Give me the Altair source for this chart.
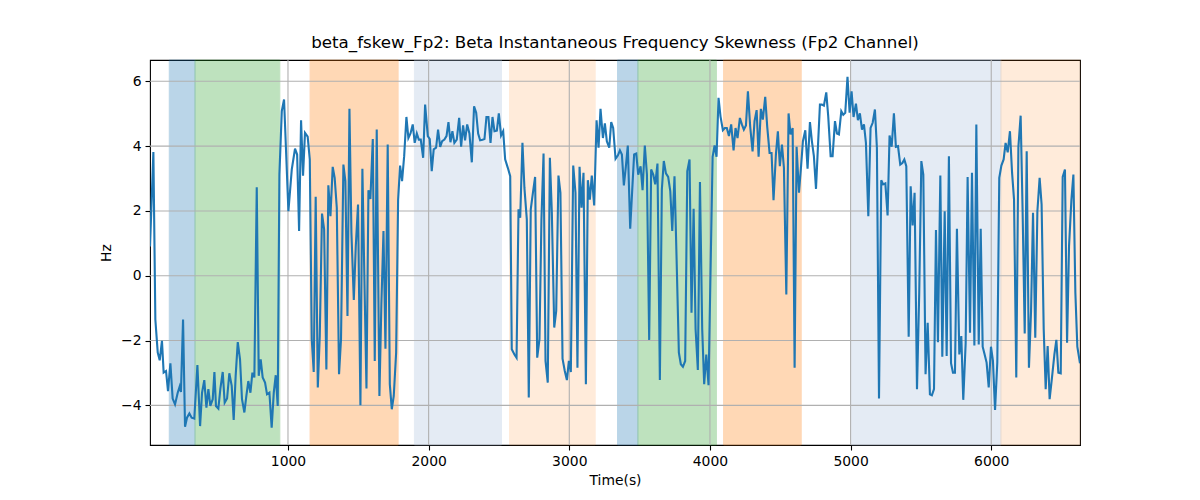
import altair as alt
import pandas as pd

# beta instantaneous frequency skewness, Fp2 channel
time_s = [
    19, 43, 57, 74, 88, 104, 116, 133, 147, 164, 180, 197, 216, 230, 239, 254, 268, 282, 299, 315,
    334, 356, 375, 389, 405, 420, 434, 448, 465, 477, 488, 505, 519, 536, 550, 567, 583, 600, 614, 628,
    643, 659, 673, 690, 704, 718, 733, 747, 761, 778, 792, 806, 820, 837, 851, 868, 884, 899, 913, 927,
    939, 956, 972,
    1003, 1027, 1050, 1065, 1079, 1093, 1107, 1121, 1140, 1155, 1169, 1183, 1197, 1212, 1226, 1242, 1257, 1273,
    1287, 1302, 1318, 1332, 1347, 1363, 1377, 1394, 1408, 1423, 1437, 1451, 1468, 1482, 1498, 1515, 1529, 1543,
    1558, 1572, 1586, 1603, 1617, 1631, 1650, 1664, 1679, 1693, 1709, 1724, 1738, 1752, 1769, 1783, 1797, 1811,
    1826, 1842, 1856, 1871, 1887, 1901, 1916, 1930, 1944, 1961, 1975,
    1994, 2008, 2022, 2036, 2053, 2067, 2082, 2096, 2112, 2127, 2141, 2155, 2169, 2183, 2200, 2217, 2231, 2245,
    2259, 2274, 2290, 2307, 2323, 2338, 2352, 2366, 2383, 2397, 2411, 2425, 2440, 2454, 2468, 2485, 2499, 2515,
    2530, 2544, 2563, 2580, 2591, 2610, 2625, 2639, 2651, 2667, 2681, 2698, 2712, 2726, 2743, 2757, 2772, 2788,
    2802, 2817, 2831, 2847, 2862, 2876, 2893, 2907, 2923, 2937, 2952, 2968, 2983, 2997,
    3011, 3028, 3044, 3058, 3073, 3087, 3101, 3118, 3132, 3146, 3160, 3177, 3194, 3208, 3222, 3239, 3253, 3267,
    3284, 3298, 3312, 3329, 3345, 3360, 3374, 3388, 3402, 3416, 3433, 3447, 3461, 3476, 3490, 3507, 3521, 3537,
    3552, 3568, 3582, 3597, 3611, 3627, 3644, 3658, 3672, 3687, 3703, 3718, 3732, 3748, 3763, 3779, 3793, 3808,
    3824, 3839, 3855, 3869, 3884, 3898, 3914, 3929, 3945, 3959, 3974, 3990,
    4004, 4019, 4033, 4047, 4061, 4075, 4092, 4106, 4120, 4135, 4151, 4168, 4182, 4196, 4213, 4227, 4241, 4256,
    4270, 4286, 4303, 4317, 4332, 4346, 4362, 4376, 4393, 4407, 4424, 4438, 4452, 4469, 4483, 4497, 4512, 4526,
    4543, 4559, 4573, 4588, 4602, 4616, 4633, 4647, 4661, 4678, 4694, 4711, 4725, 4739, 4754, 4768, 4782, 4796,
    4810, 4827, 4841, 4858, 4872, 4889, 4903, 4917, 4934, 4948, 4962, 4978, 4993,
    5007, 5021, 5038, 5052, 5066, 5081, 5095, 5109, 5126, 5142, 5157, 5173, 5187, 5202, 5218, 5232, 5247, 5263,
    5277, 5292, 5308, 5322, 5337, 5353, 5368, 5382, 5396, 5413, 5427, 5441, 5455, 5472, 5488, 5503, 5517, 5533,
    5548, 5564, 5578, 5593, 5607, 5621, 5638, 5652, 5669, 5683, 5699, 5714, 5728, 5742, 5756, 5773, 5787, 5801,
    5818, 5832, 5849, 5863, 5880, 5894, 5911, 5925, 5939, 5953, 5967, 5982,
    5998, 6012, 6027, 6043, 6057, 6072, 6088, 6102, 6117, 6133, 6148, 6162, 6178, 6193, 6209, 6223, 6238, 6252,
    6268, 6283, 6297, 6313, 6328, 6344, 6358, 6373, 6387, 6401, 6415, 6432, 6449, 6463, 6477, 6494, 6508, 6524,
    6539, 6553, 6570, 6584, 6598, 6612, 6631,
]
skew_hz = [
    0.9, 3.82, -1.35, -2.37, -2.61, -2.01, -2.99, -2.94, -3.56, -2.70, -3.79, -3.97, -3.61, -3.42, -3.59, -1.35, -4.66, -4.38, -4.25, -4.38,
    -4.41, -2.76, -4.64, -3.61, -3.22, -4.07, -3.50, -4.02, -3.81, -2.97, -4.02, -4.10, -3.50, -2.97, -3.92, -3.79, -3.01, -3.40, -4.45, -3.09,
    -2.05, -2.58, -3.81, -4.22, -3.71, -3.25, -3.61, -2.99, -3.14, 2.73, -3.09, -2.58, -3.14, -3.30, -3.66, -3.61, -4.69, -3.61, -3.07, -4.02,
    3.12, 5.08, 5.44,
    1.99, 3.28, 3.92, 3.74, 1.38, 4.80, 3.09, 4.41, 4.29, 3.59, -1.96, -2.97, 2.44, -3.45, -1.86, 1.92, 1.43, -2.89,
    2.79, 1.84, 3.36, 3.02, 2.10, -3.04, -1.96, 3.43, 2.92, -1.24, 5.15, 1.33, -0.75, 0.91, 2.20, -4.00, 3.30, -0.01,
    -3.48, 2.64, 2.37, 4.22, -2.63, 4.51, -3.71, -0.88, 1.38, -2.25, 4.05, -3.35, -4.12, -3.71, -2.37, 2.35, 3.40, 2.92,
    3.69, 4.90, 4.25, 4.39, 4.67, 4.10, 4.39, 4.20, 4.20, 3.64, 5.28,
    4.31, 4.22, 3.23, 3.90, 3.95, 4.51, 3.98, 4.15, 4.20, 4.31, 4.74, 4.12, 4.46, 4.10, 4.20, 4.87, 3.98, 4.64,
    4.18, 4.67, 4.39, 3.50, 5.23, 5.03, 4.39, 4.18, 4.20, 4.22, 4.90, 4.90, 4.10, 4.90, 4.46, 4.48, 5.01, 4.33,
    4.46, 3.59, 3.33, 3.07, -2.27, -2.43, -2.53, 2.05, 1.79, 4.10, 2.71, 1.74, -3.76, 2.05, 2.61, 3.05, -2.53, -1.96,
    1.74, 3.77, -2.63, -3.30, 3.64, 1.94, -1.60, -1.09, 3.09, 2.56, -2.56, -2.94, -3.22, -2.63,
    -2.97, 3.40, 2.56, -2.84, 3.36, 2.10, 3.18, -3.35, 2.95, 2.35, 3.09, 2.17, 4.80, 3.95, 5.15, 4.25, 4.70, 4.15,
    3.95, 4.74, 4.56, 3.61, 3.71, 3.87, 3.74, 2.79, 3.36, 4.02, 1.45, 2.61, 3.74, 3.77, 3.12, 3.38, 2.64, 4.02,
    3.12, -1.98, 3.28, 3.12, 2.82, 3.46, -3.22, 2.66, 3.54, 3.16, 3.05, 2.61, 1.38, 3.07, 0.50, -2.37, -2.73, -2.81,
    -2.63, 3.23, 3.59, -1.14, 2.07, -1.65, -2.91, 2.89, -1.65, -3.35, -2.43, -3.38,
    0.09, 3.67, 4.02, 3.67, 5.49, 4.92, 4.49, 4.56, 4.56, 4.31, 4.67, 3.87, 4.56, 4.25, 4.87, 4.67, 4.51, 4.64,
    5.69, 4.61, 3.84, 4.77, 5.11, 3.67, 5.15, 4.82, 5.52, 4.61, 3.79, 3.79, 2.33, 3.74, 4.46, 3.38, 4.05, 3.33,
    -0.58, 5.01, 4.36, 4.56, -2.84, 3.98, 2.56, 3.33, 4.15, 4.49, 3.30, 4.74, 4.15, 3.69, 2.68, 4.00, 5.28, 5.28,
    5.25, 5.66, 4.92, 3.69, 3.69, 4.77, 4.39, 4.36, 5.08, 4.97, 5.03, 6.14, 5.03,
    5.69, 4.90, 5.31, 4.80, 5.01, 4.51, 4.67, 4.10, 1.84, 4.56, 4.72, 5.13, 3.95, -3.79, 2.95, 2.82, 2.85, 1.86,
    4.33, 3.98, 5.01, 3.98, 4.00, 3.43, 3.48, 3.59, 3.38, -1.88, 2.76, 1.55, 2.56, -3.50, -0.52, 3.54, 3.12, -3.04,
    -1.45, -3.66, -3.69, -3.50, 1.41, -2.05, 3.09, -2.50, 1.99, -2.48, 3.69, -2.70, -2.99, -2.99, 1.45, -2.43, -1.86, -3.83,
    -2.09, 3.05, -1.76, 3.18, -2.15, 4.67, -2.12, 1.45, -2.19, -2.43, -2.68, -3.45,
    -2.19, -2.63, -4.14, -2.68, 3.02, 3.40, 3.59, 4.10, 3.81, 4.46, 3.18, 2.35, -3.14, 3.98, 4.94, 1.99, -1.78, 3.84,
    -2.84, -1.09, 1.94, -1.91, 1.99, 3.02, 2.20, -1.65, -3.50, -2.17, -3.81, -3.14, -2.43, -1.98, -2.99, -3.01, 3.05, 3.28,
    -2.07, 0.91, 2.35, 3.12, -0.52, -2.19, -2.70,
]

# shaded segments behind the trace
band_start = [156, 339, 1157, 1899, 2575, 3343, 3488, 4097, 5005, 6069]
band_end = [339, 942, 1783, 2518, 3184, 3488, 4046, 4649, 6069, 6631]
band_kind = ["A", "B", "C", "D", "E", "A", "B", "C", "D", "E"]

x_ticks = [1000, 2000, 3000, 4000, 5000, 6000]
y_ticks = [-4, -2, 0, 2, 4, 6]

signal = pd.DataFrame({"time": time_s, "hz": skew_hz})
bands = pd.DataFrame({"start": band_start, "end": band_end, "kind": band_kind})

x_scale = alt.Scale(domain=[19, 6631], nice=False, zero=False)
y_scale = alt.Scale(domain=[-5.224, 6.658], nice=False, zero=False)
x_axis = alt.Axis(values=x_ticks, format="d", title="Time(s)", titlePadding=6)
y_axis = alt.Axis(values=y_ticks, format="d", title="Hz", titlePadding=7)


def shade(kind, color, alpha):
    return alt.Chart(bands).transform_filter(alt.datum.kind == kind).mark_rect(
        fill=color, stroke=color, strokeWidth=1, opacity=alpha
    ).encode(
        x=alt.X("start:Q", scale=x_scale, axis=x_axis),
        x2="end:Q",
        y=alt.value(0),
        y2=alt.value(385),
    )


xgrid = alt.Chart(pd.DataFrame({"time": x_ticks})).mark_rule(color="#b0b0b0", strokeWidth=1.1).encode(
    x=alt.X("time:Q", scale=x_scale, axis=x_axis)
)
ygrid = alt.Chart(pd.DataFrame({"hz": y_ticks})).mark_rule(color="#b0b0b0", strokeWidth=1.1).encode(
    y=alt.Y("hz:Q", scale=y_scale, axis=y_axis)
)

trace = alt.Chart(signal).mark_line(color="#1f77b4", strokeWidth=2.1, clip=True).encode(
    x=alt.X("time:Q", scale=x_scale, axis=x_axis),
    y=alt.Y("hz:Q", scale=y_scale, axis=y_axis),
)

chart = (
    alt.layer(
        shade("A", "#1f77b4", 0.3),
        shade("B", "#2ca02c", 0.3),
        shade("C", "#ff7f0e", 0.3),
        shade("D", "#b0c4de", 0.33),
        shade("E", "#ff7f0e", 0.15),
        xgrid, ygrid, trace,
    )
    .properties(
        width=930,
        height=385,
        autosize=alt.AutoSizeParams(type="none"),
        padding={"left": 142, "top": 52, "right": 112, "bottom": 47},
        title=alt.TitleParams(
            "beta_fskew_Fp2: Beta Instantaneous Frequency Skewness (Fp2 Channel)",
            fontSize=16.7, fontWeight="normal", color="black", anchor="middle", offset=8,
        ),
    )
    .configure(font="DejaVu Sans")
    .configure_view(stroke="black", strokeWidth=1.1)
    .configure_axis(
        grid=False, domain=False,
        tickColor="black", tickSize=5, tickWidth=1.1,
        labelColor="black", labelFontSize=13.9, labelPadding=4,
        titleColor="black", titleFontSize=13.9, titleFontWeight="normal",
    )
)

chart.save("out.html", embed_options={"renderer": "svg", "actions": False})
